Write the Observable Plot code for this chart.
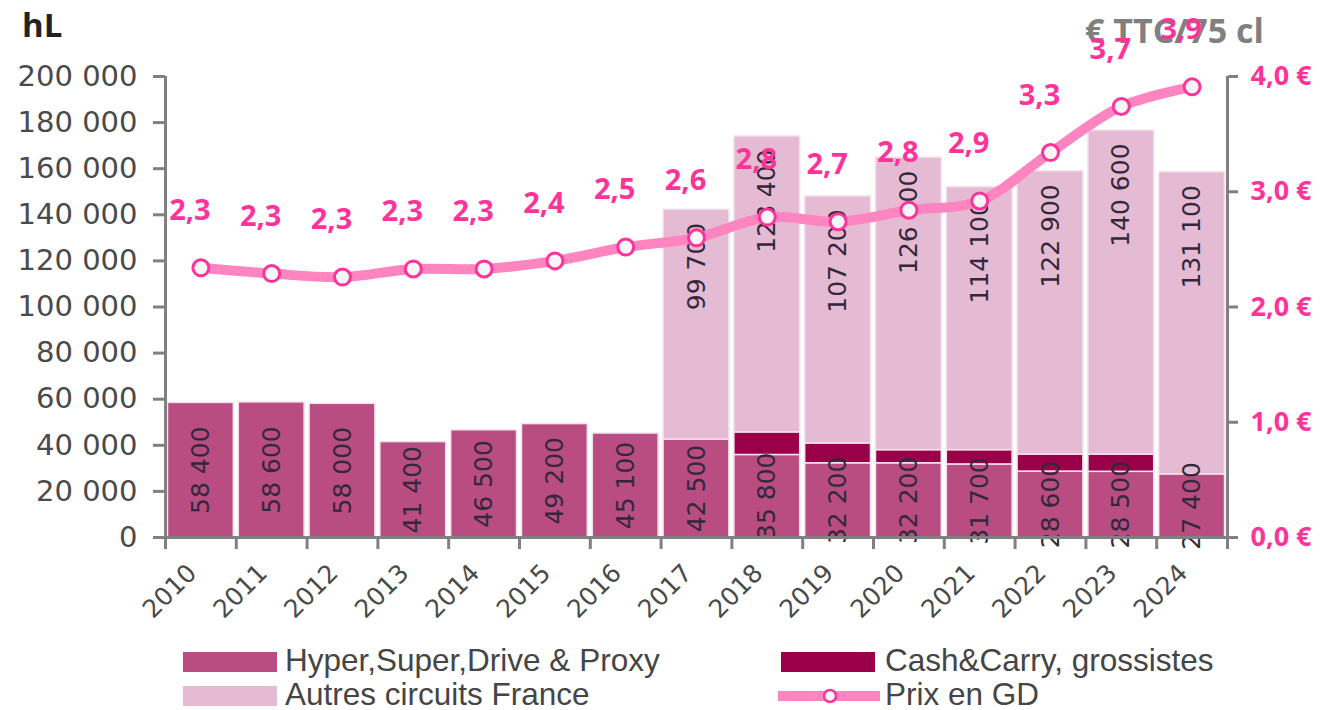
<!DOCTYPE html>
<html><head><meta charset="utf-8">
<script src="https://cdn.jsdelivr.net/npm/d3@7"></script>
<script src="https://cdn.jsdelivr.net/npm/@observablehq/plot@0.6"></script>
<style>
body{margin:0;background:#fff;width:1330px;height:710px;overflow:hidden;position:relative}
.t{position:absolute;font-family:"Open Sans",sans-serif;font-weight:700;font-size:33px;line-height:1;white-space:nowrap}
#chart{position:absolute;left:0;top:0}
.leg{position:absolute;font-family:"Liberation Sans",sans-serif;font-size:31.5px;color:#454545;line-height:1;white-space:nowrap}
.sw{position:absolute;width:94px;height:20px}
</style></head><body>
<div class="t" style="left:22px;top:8px;color:#222">hL</div>
<div class="t" style="left:1085px;top:13px;color:#808080;font-size:34px">€ TTC/75 cl</div>
<div id="chart"></div>
<div id="legend"></div>
<script>
const years = ["2010","2011","2012","2013","2014","2015","2016","2017","2018","2019","2020","2021","2022","2023","2024"];
const hyper  = [58400,58600,58000,41400,46500,49200,45100,42500,35800,32200,32200,31700,28600,28500,27400];
const cash   = [0,0,0,0,0,0,0,0,9800,8600,5700,6200,7400,7500,0];
const autres = [0,0,0,0,0,0,0,99700,128400,107200,126900,114100,122900,140600,131100];
const prix   = [2.34,2.29,2.26,2.33,2.33,2.40,2.52,2.60,2.78,2.74,2.84,2.92,3.34,3.74,3.91];
const seriesNames = ["Hyper,Super,Drive & Proxy","Cash&Carry, grossistes","Autres circuits France"];
const seriesColors = ["#b94d82","#990049","#e5bbd3"];
const priceName = "Prix en GD";
const yTicks = [0,20000,40000,60000,80000,100000,120000,140000,160000,180000,200000];
const priceTicks = [0,1,2,3,4];

const W = 1330, H = 640, mL = 165, mR = 103, mT = 76, mB = 103;
const bw = (W - mL - mR) / years.length;
const k = 200000 / 4; // right axis (€) mapped onto left axis (hL)

const loc = d3.formatLocale({decimal: ",", thousands: " ", grouping: [3], currency: ["", " €"]});
const fmtN = loc.format(",");
const fmt1 = loc.format(".1f");

const rows = years.flatMap((y, i) => [
  {year: y, serie: seriesNames[0], v: hyper[i]},
  {year: y, serie: seriesNames[1], v: cash[i]},
  {year: y, serie: seriesNames[2], v: autres[i]}
]).filter(d => d.v > 0);
const hyperRows = years.map((y, i) => ({year: y, v: hyper[i]}));
const autresRows = years.map((y, i) => ({year: y, v: autres[i], top: hyper[i] + cash[i] + autres[i]})).filter(d => d.v > 0);
const priceRows = years.map((y, i) => ({year: y, p: prix[i]}));

const gray = "#808080", pink = "#ff3399";

const chart = Plot.plot({
  width: W, height: H,
  marginLeft: mL, marginRight: mR, marginTop: mT, marginBottom: mB,
  style: {fontFamily: "DejaVu Sans", background: "none", overflow: "visible"},
  x: {type: "band", domain: years, padding: 0, round: false, axis: null, label: null},
  y: {domain: [0, 200000], axis: null, label: null},
  color: {domain: seriesNames, range: seriesColors},
  marks: [
    Plot.barY(rows, {x: "year", y: "v", fill: "serie", order: seriesNames, insetLeft: 2.5, insetRight: 2.5, stroke: "#f3e2eb", strokeWidth: 1.5}),
    Plot.text(hyperRows, {x: "year", y: d => d.v / 2, text: d => fmtN(d.v), rotate: -90, fontSize: 25, fill: "#33283a"}),
    Plot.text(autresRows, {x: "year", y: "top", text: d => fmtN(d.v), rotate: -90, textAnchor: "end", dy: 13, fontSize: 25, fill: "#33283a"}),
    Plot.line(priceRows, {x: "year", y: d => d.p * k, stroke: "#ff85c0", strokeWidth: 10, curve: "catmull-rom"}),
    Plot.dot(priceRows, {x: "year", y: d => d.p * k, r: 8, fill: "#f6f6f6", stroke: pink, strokeWidth: 3}),
    Plot.text(priceRows, {x: "year", y: d => d.p * k, text: d => fmt1(d.p), dx: -11, dy: -57, fill: pink, fontSize: 29, fontWeight: 700, fontFamily: "Open Sans"}),
    Plot.ruleY([0], {stroke: gray, strokeWidth: 3}),
    Plot.ruleX([years[0]], {x: d => d, y1: 0, y2: 200000, dx: -bw / 2, stroke: gray, strokeWidth: 3}),
    Plot.ruleX([years[years.length - 1]], {x: d => d, y1: 0, y2: 200000, dx: bw / 2, stroke: gray, strokeWidth: 3}),
    Plot.axisY({anchor: "left", ticks: yTicks, tickSize: 12, tickPadding: 16, tickFormat: fmtN, stroke: gray, strokeWidth: 3, fill: "#4a4a4a", fontSize: 29, label: null}),
    Plot.axisY({anchor: "right", ticks: priceTicks.map(t => t * k), tickSize: 10, tickPadding: 13, tickFormat: d => fmt1(d / k) + " €", stroke: gray, strokeWidth: 3, fill: pink, fontSize: 27, fontWeight: 700, fontFamily: "Open Sans", label: null}),
    Plot.axisX({ticks: years, tickSize: 12, tickFormat: () => "", dx: -bw / 2, stroke: gray, strokeWidth: 3, label: null}),
    Plot.axisX({ticks: [years[years.length - 1]], tickSize: 12, tickFormat: () => "", dx: bw / 2, stroke: gray, strokeWidth: 3, label: null}),
    Plot.text(years, {x: d => d, frameAnchor: "bottom", text: d => d, rotate: -45, textAnchor: "end", dx: -3, dy: 37, fontSize: 25, fill: "#4a4a4a"})
  ]
});
document.getElementById("chart").appendChild(chart);

// legend (HTML, below the SVG)
const leg = document.getElementById("legend");
const items = [
  {name: seriesNames[0], color: seriesColors[0], x: 183, y: 652, tx: 285, ty: 645},
  {name: seriesNames[1], color: seriesColors[1], x: 781, y: 652, tx: 885, ty: 645},
  {name: seriesNames[2], color: seriesColors[2], x: 183, y: 686, tx: 285, ty: 679}
];
for (const it of items) {
  const s = document.createElement("div");
  s.className = "sw"; s.style.left = it.x + "px"; s.style.top = it.y + "px"; s.style.background = it.color;
  leg.appendChild(s);
  const t = document.createElement("div");
  t.className = "leg"; t.style.left = it.tx + "px"; t.style.top = it.ty + "px"; t.textContent = it.name;
  leg.appendChild(t);
}
const ls = d3.create("svg").attr("width", 110).attr("height", 24)
  .style("position", "absolute").style("left", "774px").style("top", "684px");
ls.append("line").attr("x1", 4).attr("x2", 106).attr("y1", 12).attr("y2", 12).attr("stroke", "#ff85c0").attr("stroke-width", 10);
ls.append("circle").attr("cx", 56).attr("cy", 12).attr("r", 6).attr("fill", "#f6f6f6").attr("stroke", pink).attr("stroke-width", 2.5);
leg.appendChild(ls.node());
const pt = document.createElement("div");
pt.className = "leg"; pt.style.left = "885px"; pt.style.top = "679px"; pt.textContent = priceName;
leg.appendChild(pt);
</script>
</body></html>
